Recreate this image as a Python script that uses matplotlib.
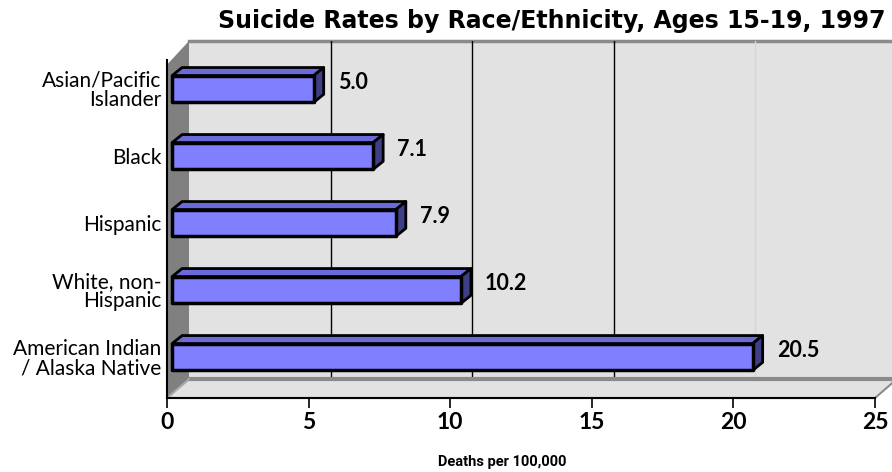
import matplotlib.pyplot as plt
from matplotlib.patches import Polygon

GROUPS = ["Asian/Pacific\nIslander", "Black", "Hispanic", "White, non-\nHispanic",
          "American Indian\n/ Alaska Native"]
RATES = [5.0, 7.1, 7.9, 10.2, 20.5]
X_TICKS = [0, 5, 10, 15, 20, 25]
GRID_X = [5, 10, 15]

TITLE = "Suicide Rates by Race/Ethnicity, Ages 15-19, 1997"
XLABEL = "Deaths per 100,000"

# 3d look, all in data units
DX, DY = 0.777, -0.284      # depth of the plot box
X0 = 0.18                   # bars sit a bit behind the front plane
BDX, BDY = 0.353, -0.12     # depth of a bar
BH = 0.4                    # bar thickness
Y_FLOOR = 4.612
Y_TOP_B = -0.716
Y_FLOOR_B = Y_FLOOR + DY

WALL = "#e2e2e2"
SIDE_WALL = "#808080"
FACE = "#8080ff"
TOP = "#6a6ad8"
SIDE = "#3f3f85"

fig = plt.figure(figsize=(8.92, 4.72), dpi=100)
ax = fig.add_axes([167 / 892, 74 / 472, 708 / 892, 357 / 472])
ax.set_xlim(0, 25)
ax.set_ylim(Y_FLOOR, Y_TOP_B)
for s in ax.spines.values():
    s.set_visible(False)

# back wall, left wall, floor
ax.add_patch(Polygon([(DX, Y_TOP_B), (27, Y_TOP_B), (27, Y_FLOOR_B), (DX, Y_FLOOR_B)],
                     closed=True, fc=WALL, ec="none", clip_on=False, zorder=0))
ax.plot([DX, 27], [Y_TOP_B, Y_TOP_B], color="#8a8a8a", lw=2.5, clip_on=False, zorder=1)
ax.add_patch(Polygon([(0, Y_TOP_B - DY + 0.07), (DX, Y_TOP_B), (DX, Y_FLOOR_B), (0, Y_FLOOR)],
                     closed=True, fc=SIDE_WALL, ec="none", clip_on=False, zorder=1))
ax.add_patch(Polygon([(0, Y_FLOOR), (25, Y_FLOOR), (25 + DX, Y_FLOOR_B), (DX, Y_FLOOR_B)],
                     closed=True, fc=WALL, ec="#8a8a8a", lw=1.5, clip_on=False, zorder=1))
ax.plot([DX, 25 + DX], [Y_FLOOR_B, Y_FLOOR_B], color="#8a8a8a", lw=3, clip_on=False, zorder=1.5)
ax.plot([0, DX], [Y_FLOOR, Y_FLOOR_B], color="#b0b0b0", lw=1, clip_on=False, zorder=1.5)

for g in GRID_X:
    ax.plot([g + DX, g + DX], [Y_TOP_B, Y_FLOOR_B], color="black", lw=1, zorder=1.2)
ax.plot([20 + DX, 20 + DX], [Y_TOP_B, Y_FLOOR_B], color="#d6d6d6", lw=1, zorder=1.2)

# axis lines
ax.plot([0, 25], [Y_FLOOR, Y_FLOOR], color="black", lw=1.5, clip_on=False, zorder=3)
ax.plot([0, 0], [Y_TOP_B - DY, Y_FLOOR], color="black", lw=1.5, clip_on=False, zorder=3)

# bars
for i, v in enumerate(RATES):
    yt, yb = i - BH / 2, i + BH / 2
    xe = X0 + v
    ax.add_patch(Polygon([(X0, yt), (xe, yt), (xe + BDX, yt + BDY), (X0 + BDX, yt + BDY)],
                         closed=True, fc=TOP, ec="black", lw=2, joinstyle="round", zorder=4))
    ax.add_patch(Polygon([(xe, yt), (xe + BDX, yt + BDY), (xe + BDX, yb + BDY), (xe, yb)],
                         closed=True, fc=SIDE, ec="black", lw=2, joinstyle="round", zorder=4))
    ax.add_patch(Polygon([(X0, yt), (xe, yt), (xe, yb), (X0, yb)],
                         closed=True, fc=FACE, ec="black", lw=2.5, joinstyle="round", zorder=5))
    ax.annotate(f"{v:.1f}", (xe + BDX, i - 0.1), xytext=(14, 0), textcoords="offset pixels",
                ha="left", va="center", fontsize=15.5, fontweight="bold",
                family="Lato", zorder=6)

ax.set_yticks(range(len(GROUPS)))
ax.set_yticklabels(GROUPS, fontsize=15, family="Lato", linespacing=0.95)
ax.tick_params(axis="y", length=0, pad=4)
ax.set_xticks(X_TICKS)
ax.set_xticklabels([str(t) for t in X_TICKS], fontsize=16.5, fontweight="bold", family="Lato")
ax.tick_params(axis="x", length=7, width=1.2, pad=3)
ax.set_facecolor("none")

fig.text(552 / 892, 1 - 21 / 472, TITLE, ha="center", va="center",
         fontsize=17, fontweight="bold", family="DejaVu Sans")
fig.text(502 / 892, 1 - 462 / 472, XLABEL, ha="center", va="center",
         fontsize=10.5, fontweight="bold", family="Roboto")

fig.savefig("out.png", dpi=100)
